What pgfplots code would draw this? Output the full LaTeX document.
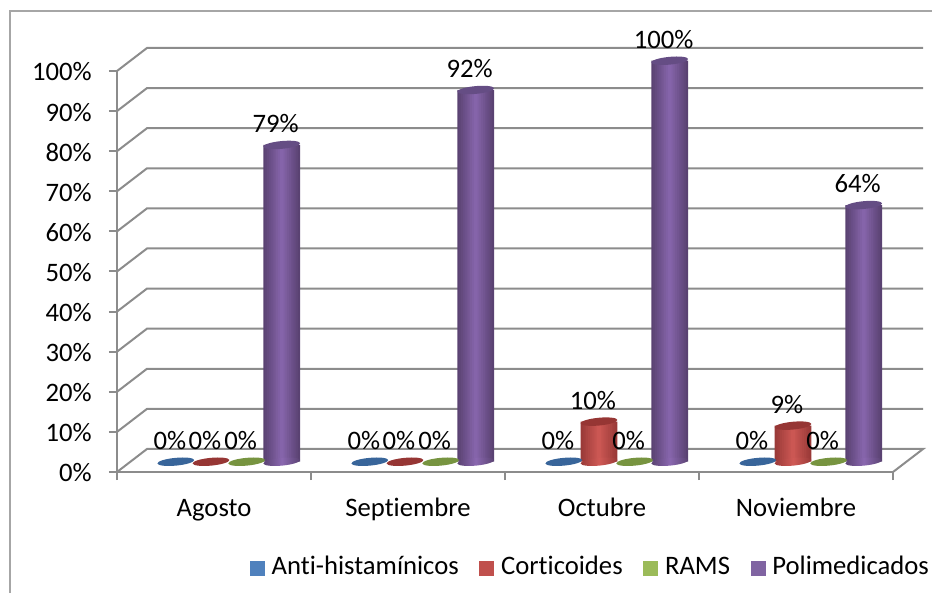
\documentclass[border=0pt]{standalone}
\usepackage{fontspec}
\setmainfont[Ligatures=NoCommon]{Carlito}
\usepackage{pgfplots}
\usepackage{pgfplotstable}
\pgfplotsset{compat=1.18}
\definecolor{gridc}{HTML}{8C8C8C}
\definecolor{framec}{HTML}{A6A6A6}
\definecolor{bl}{HTML}{4F81BD}\definecolor{re}{HTML}{C0504D}\definecolor{gr}{HTML}{9BBB59}\definecolor{pu}{HTML}{8064A2}
\definecolor{blt}{HTML}{38659A}\definecolor{ret}{HTML}{963634}\definecolor{grt}{HTML}{779440}\definecolor{put}{HTML}{654D84}
\definecolor{pue}{HTML}{5A4272}\definecolor{pum}{HTML}{8A68B0}
\definecolor{ree}{HTML}{9A3A38}\definecolor{rem}{HTML}{D05A56}
\pgfdeclarehorizontalshading{puS}{100bp}{color(0bp)=(pue); color(25bp)=(pue); color(50bp)=(pum); color(75bp)=(pue); color(100bp)=(pue)}
\pgfdeclarehorizontalshading{reS}{100bp}{color(0bp)=(ree); color(25bp)=(ree); color(50bp)=(rem); color(75bp)=(ree); color(100bp)=(ree)}
\pgfdeclareplotmark{topell}{\pgfpathellipse{\pgfpointorigin}{\pgfpoint{13.76pt}{1.3pt}}{\pgfpoint{-0.3pt}{2.9pt}}\pgfusepathqfill}
\pgfdeclareplotmark{basepu}{\pgfpathellipse{\pgfpointorigin}{\pgfpoint{13.76pt}{1.3pt}}{\pgfpoint{-0.3pt}{2.9pt}}\pgfshadepath{puS}{0}\pgfusepath{discard}}
\pgfdeclareplotmark{basere}{\pgfpathellipse{\pgfpointorigin}{\pgfpoint{13.76pt}{1.3pt}}{\pgfpoint{-0.3pt}{2.9pt}}\pgfshadepath{reS}{0}\pgfusepath{discard}}
\pgfplotstableread{
pos anti cort rams poli poliL
0.5 0 0 0 79 79
1.5 0 0 0 92.7 92
2.5 0 10 0 100 100
3.5 0 9 0 64 64
}\datatab
\pgfplotsset{
  lbl/.style={nodes near coords={\pgfmathprintnumber{\pgfplotspointmeta}\%},
    every node near coord/.append style={anchor=center,inner sep=0pt,xshift=-4.5pt,yshift=16pt,text=black}},
  top/.style={forget plot,only marks,mark=topell,mark options={fill=#1,draw=none},lbl},
}
\begin{document}
\begin{tikzpicture}[x=0.75pt,y=0.75pt]
\useasboundingbox (0,0) rectangle (932,593);
\draw[framec,line width=1.5pt] (10,0)--(10,582)--(932,582);
\begin{axis}[
  at={(87.75pt,90.75pt)},anchor=south west,scale only axis,
  width=582pt,height=300.75pt,
  xmin=0,xmax=4,ymin=0,ymax=100,clip=false,
  font=\fontsize{20}{24}\selectfont,
  /pgf/number format/assume math mode=true,
  axis x line*=bottom,axis y line*=left,
  axis line style={-,draw=gridc,line width=1.5pt},
  tick align=outside,major tick length=6pt,minor tick length=6pt,
  ytick={0,10,...,100},
  yticklabel={\pgfmathprintnumber{\tick}\%},
  yticklabel style={xshift=-9.5pt,yshift=-0.7pt},
  major y tick style={draw=gridc,line width=1.5pt},
  xtick={0.5,1.5,2.5,3.5},
  xticklabels={Agosto,Septiembre,Octubre,Noviembre},
  minor xtick={0,1,2,3,4},
  major x tick style={draw=none},
  minor x tick style={draw=gridc,line width=1.5pt},
  xticklabel style={anchor=base,yshift=-27.5pt},
  legend columns=4,
  legend style={at={(0.1714,-0.2395)},anchor=west,draw=none,fill=none,inner sep=0pt,outer sep=0pt,
    /tikz/every even column/.append style={column sep=15.5pt},
    /tikz/every odd column/.append style={column sep=0pt},
    nodes={inner sep=0pt,right,text height=14pt,text depth=5pt}},
  legend image code/.code={\fill[draw=none,#1] (0pt,-5.6pt) rectangle (11.25pt,5.6pt);},
  legend cell align=left,
]
% walls and floor
\addplot[forget plot,gridc,line width=1.5pt] coordinates {(0,0)(0.1546,5.74)(4.155,5.74)(4,0)};
\addplot[forget plot,gridc,line width=1.5pt] coordinates {(0,10)(0.1546,15.74)(4.155,15.74)};
\addplot[forget plot,gridc,line width=1.5pt] coordinates {(0,20)(0.1546,25.74)(4.155,25.74)};
\addplot[forget plot,gridc,line width=1.5pt] coordinates {(0,30)(0.1546,35.74)(4.155,35.74)};
\addplot[forget plot,gridc,line width=1.5pt] coordinates {(0,40)(0.1546,45.74)(4.155,45.74)};
\addplot[forget plot,gridc,line width=1.5pt] coordinates {(0,50)(0.1546,55.74)(4.155,55.74)};
\addplot[forget plot,gridc,line width=1.5pt] coordinates {(0,60)(0.1546,65.74)(4.155,65.74)};
\addplot[forget plot,gridc,line width=1.5pt] coordinates {(0,70)(0.1546,75.74)(4.155,75.74)};
\addplot[forget plot,gridc,line width=1.5pt] coordinates {(0,80)(0.1546,85.74)(4.155,85.74)};
\addplot[forget plot,gridc,line width=1.5pt] coordinates {(0,90)(0.1546,95.74)(4.155,95.74)};
\addplot[forget plot,gridc,line width=1.5pt] coordinates {(0,100)(0.1546,105.74)(4.155,105.74)};
% blue
\addplot[top=blt,xshift=-28.65pt,yshift=7.7pt] table[x=pos,y=anti] {\datatab};
% red
\addplot[forget plot,only marks,mark=basere,xshift=-2.25pt,yshift=7.7pt] coordinates {(2.5,0)(3.5,0)};
\pgfplotsinvokeforeach{0,10,...,90}{
\addplot[forget plot,ybar,bar width={27.5*(100-#1)/100*1pt},draw=none,fill=rem!#1!ree,xshift=-2.25pt,yshift=7.7pt] coordinates {(2.5,10)(3.5,9)};
}
\addplot[top=ret,xshift=-2.25pt,yshift=7.7pt] table[x=pos,y=cort] {\datatab};
% green
\addplot[top=grt,xshift=24.5pt,yshift=7.7pt] table[x=pos,y=rams] {\datatab};
% purple
\addplot[forget plot,only marks,mark=basepu,xshift=50.8pt,yshift=7.7pt] table[x=pos,y expr=0] {\datatab};
\pgfplotsinvokeforeach{0,10,...,90}{
\addplot[forget plot,ybar,bar width={27.5*(100-#1)/100*1pt},draw=none,fill=pum!#1!pue,xshift=50.8pt,yshift=7.7pt] table[x=pos,y=poli] {\datatab};
}
\addplot[top=put,point meta=explicit,xshift=50.8pt,yshift=7.7pt] table[x=pos,y=poli,meta=poliL] {\datatab};
% legend
\addlegendimage{fill=bl}\addlegendentry{\hspace{5pt}Anti-histamínicos}
\addlegendimage{fill=re}\addlegendentry{\hspace{5pt}Corticoides}
\addlegendimage{fill=gr}\addlegendentry{\hspace{5pt}RAMS}
\addlegendimage{fill=pu}\addlegendentry{\hspace{5pt}Polimedicados}
\end{axis}
\end{tikzpicture}
\end{document}
